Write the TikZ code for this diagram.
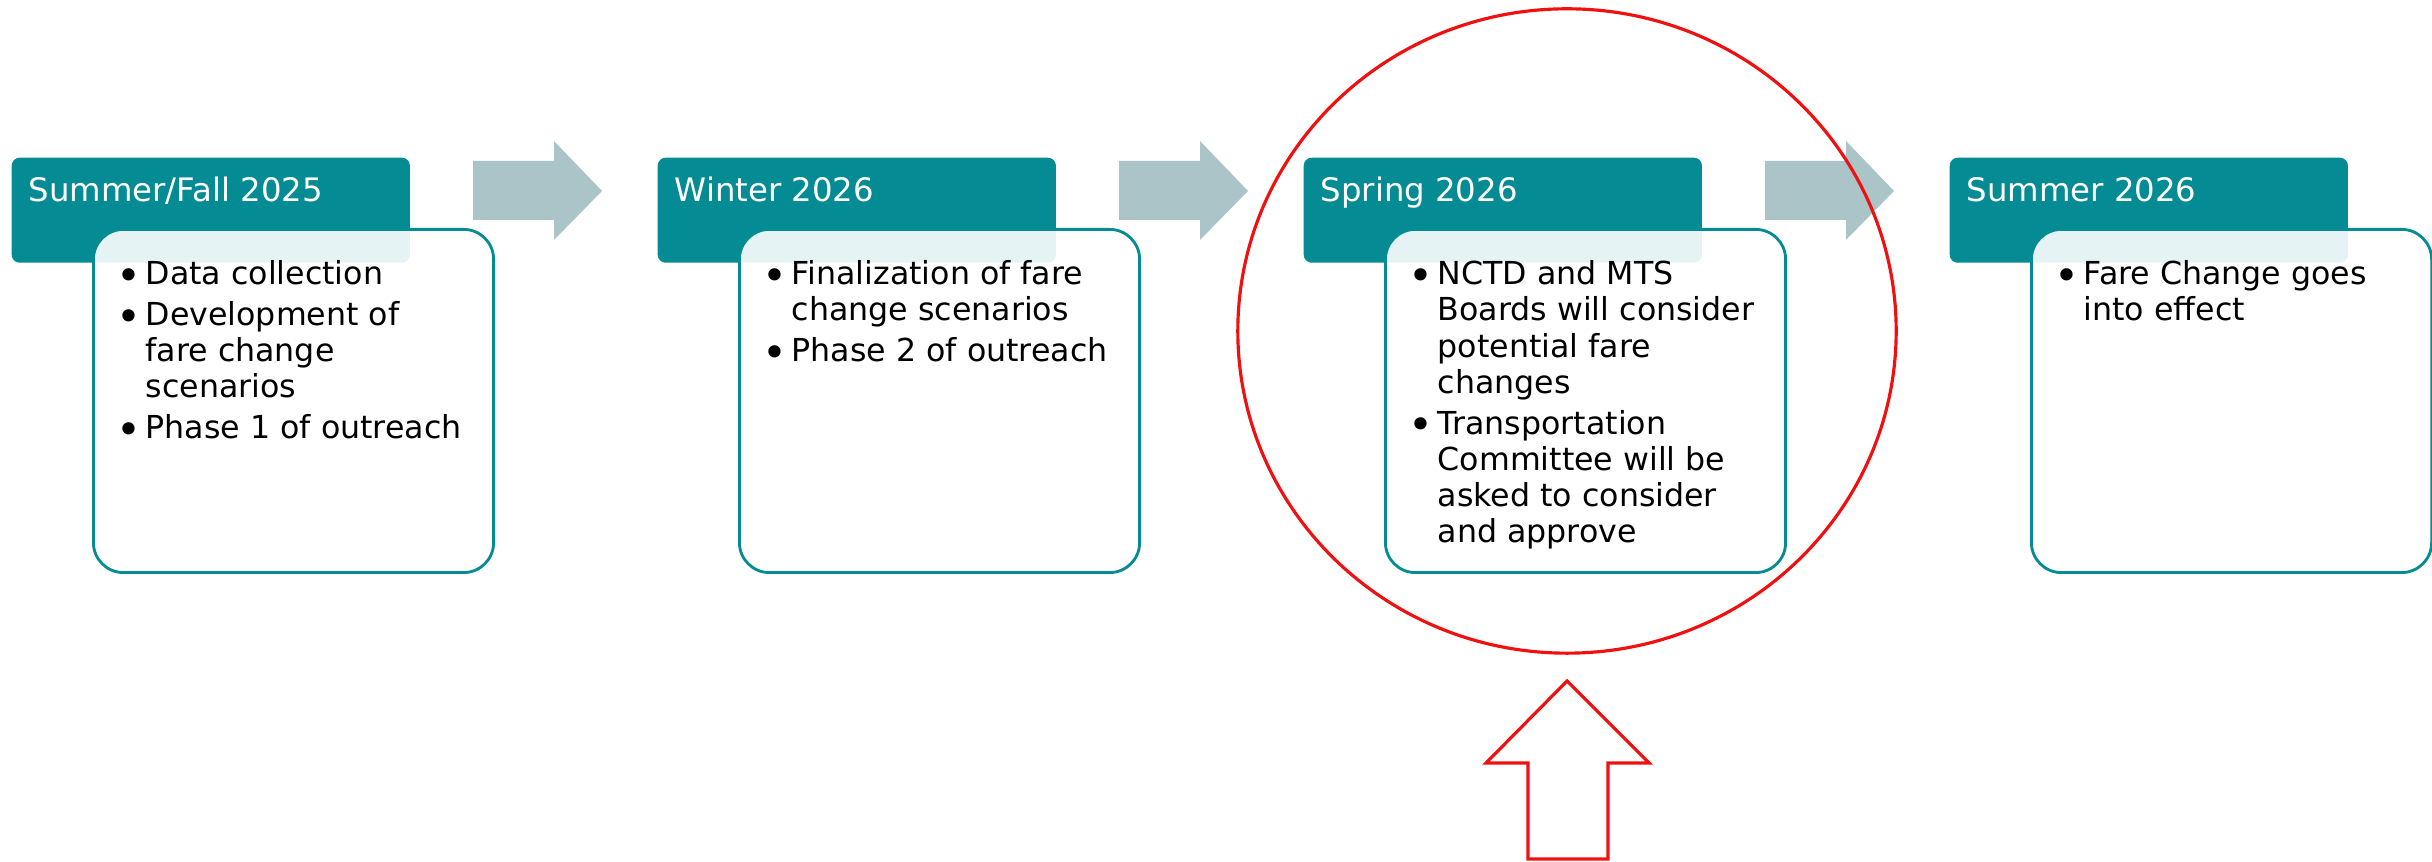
\documentclass[tikz,border=0pt]{standalone}
\usepackage{fontspec}
\setmainfont{DejaVu Sans}
\usepackage{tikz}
\usetikzlibrary{positioning,calc}
\definecolor{myteal}{RGB}{4,139,147}
\definecolor{mygrey}{RGB}{171,196,199}
\definecolor{myred}{RGB}{240,16,16}
\newcommand{\bul}{\llap{\raisebox{-1.5pt}{\fontsize{12}{0}\selectfont\textbullet}\kern1.25pt}}

\begin{document}
\begin{tikzpicture}[
  x=0.01cm,
  y=-0.01cm,
  header/.style={
    fill=myteal,
    rounded corners=0.08cm,
    minimum width=3.98cm,
    minimum height=1.05cm,
    inner sep=0pt,
    anchor=north west
    },
  stagebox/.style={
    draw=myteal,
    line width=0.8pt,
    fill=white,
    fill opacity=0.9,
    rounded corners=0.3cm,
    minimum width=4cm,
    minimum height=3.43cm,
    inner sep=0pt,
    anchor=north west
    },
  headtext/.style={
    text=white,
    font=\fontsize{9.2}{11}\selectfont,
    inner sep=0pt,
    anchor=base west
    },
  itemtext/.style={
    align=left,
    font=\fontsize{9}{10.25}\selectfont,
    inner sep=0pt,
    anchor=north west
    },
  flowarrow/.style={fill=mygrey},
  markup/.style={draw=myred, line width=0.9pt}
]
\useasboundingbox (0,0) rectangle (2432,862);

% stages
\node[header] (h1) at (11,157) {};
\node[stagebox] (b1) at (92,228) {};
\node[headtext] (t1) at ([shift={(17,45)}]h1.north west) {Summer/Fall 2025};
\node[itemtext] (l1) at ([shift={(53,31)}]b1.north west)
  {\strut\bul Data collection\\[1.4pt]
   \bul Development of\\ fare change\\ scenarios\\[1.4pt]
   \bul Phase 1 of outreach};

\node[header] (h2) at (657,157) {};
\node[stagebox] (b2) at (738,228) {};
\node[headtext] (t2) at ([shift={(17,45)}]h2.north west) {Winter 2026};
\node[itemtext] (l2) at ([shift={(53,31)}]b2.north west)
  {\strut\bul Finalization of fare\\ change scenarios\\[1.4pt]
   \bul Phase 2 of outreach};

\node[header] (h3) at (1303,157) {};
\node[stagebox] (b3) at (1384,228) {};
\node[headtext] (t3) at ([shift={(17,45)}]h3.north west) {Spring 2026};
\node[itemtext] (l3) at ([shift={(53,31)}]b3.north west)
  {\strut\bul NCTD and MTS\\ Boards will consider\\ potential fare\\ changes\\[1.4pt]
   \bul Transportation\\ Committee will be\\ asked to consider\\ and approve};

\node[header] (h4) at (1949,157) {};
\node[stagebox] (b4) at (2030,228) {};
\node[headtext] (t4) at ([shift={(17,45)}]h4.north west) {Summer 2026};
\node[itemtext] (l4) at ([shift={(53,31)}]b4.north west)
  {\strut\bul Fare Change goes\\ into effect};

% arrows between stages
\foreach \dx in {0,646,1292}
  \fill[flowarrow, xshift=\dx*0.01cm]
    (473,161) -- (554,161) -- (554,141) -- (602,191)
    -- (554,240) -- (554,220) -- (473,220) -- cycle;

% highlight
\draw[markup] (1567,331) ellipse [x radius=3.29cm, y radius=3.22cm];
\draw[markup] (1567,681) -- (1649,763) -- (1608,763) -- (1608,859)
  -- (1528,859) -- (1528,763) -- (1486,763) -- cycle;

\end{tikzpicture}
\end{document}
